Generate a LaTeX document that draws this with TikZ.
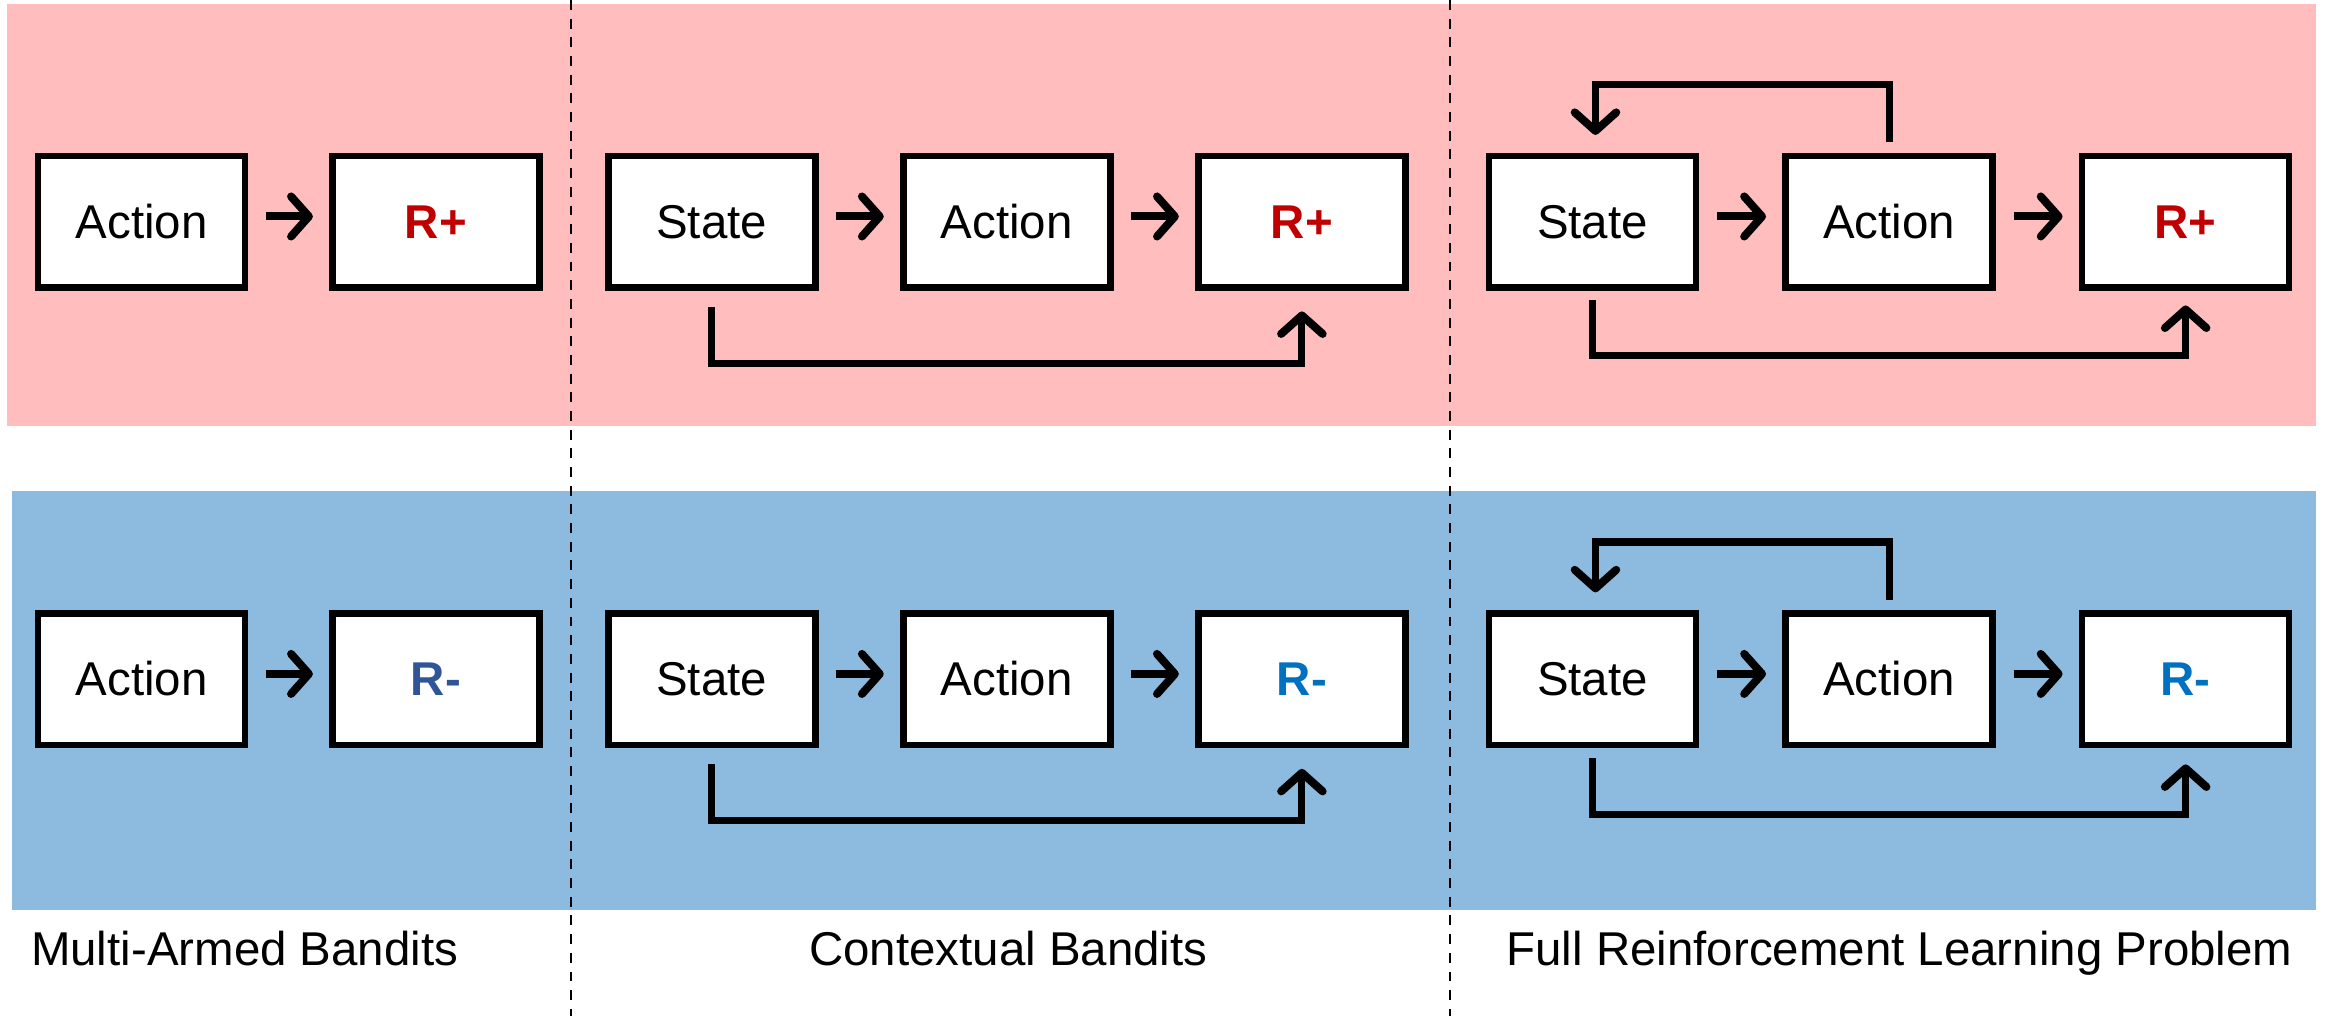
\documentclass[tikz,border=0pt]{standalone}
\usepackage{fontspec}
\setmainfont{Liberation Sans}
\usetikzlibrary{arrows.meta}
\definecolor{bandpink}{HTML}{FFBDBD}
\definecolor{bandblue}{HTML}{8DBBE0}
\definecolor{rplus}{HTML}{C00000}
\definecolor{rminusdark}{HTML}{2F5597}
\definecolor{rminus}{HTML}{0070C0}
\tikzset{
  box/.style={draw=black, fill=white, line width=4.4pt, minimum width=139.6pt, minimum height=88.6pt,
    inner sep=0pt, text height=22.7pt, text depth=0pt, font=\fontsize{32pt}{38pt}\selectfont},
  plus/.style={text=rplus, font=\fontsize{32pt}{38pt}\selectfont\bfseries},
  minusA/.style={text=rminusdark, font=\fontsize{32pt}{38pt}\selectfont\bfseries},
  minusB/.style={text=rminus, font=\fontsize{32pt}{38pt}\selectfont\bfseries},
  conn/.style={draw=black, line width=4.8pt, line cap=butt,
    -{Straight Barb[length=12.5pt,width=28pt,line width=5.4pt,round]}},
  link/.style={draw=black, line width=5.4pt, line cap=butt,
    -{Straight Barb[length=12pt,width=27pt,line width=5.4pt,round]}},
  divider/.style={draw=black, line width=1.1pt, dash pattern=on 6.7pt off 5.9pt},
  caption/.style={inner sep=0pt, text height=22.7pt, text depth=0pt, font=\fontsize{32pt}{38pt}\selectfont}
}
\begin{document}
\begin{tikzpicture}[x=1pt, y=-1pt]
\useasboundingbox (0,0) rectangle (1568,685);
% bands
\fill[bandpink] (5,3) rectangle (1562,287);
\fill[bandblue] (8,331) rectangle (1562,614);
% dividers
\coordinate (d1t) at (385,0); \coordinate (d1b) at (385,685);
\coordinate (d2t) at (978,0); \coordinate (d2b) at (978,685);
\draw[divider] (d1t) -- (d1b);
\draw[divider] (d2t) -- (d2b);

% ---------- Row 1 (pink) ----------
\node[box] (ma1) at (95.5,149.5) {Action};
\node[box,plus] (mr1) at (294,149.5) {R+};
\node[box] (cs1) at (480,149.5) {State};
\node[box] (ca1) at (679,149.5) {Action};
\node[box,plus] (cr1) at (878,149.5) {R+};
\node[box] (fs1) at (1074,149.5) {State};
\node[box] (fa1) at (1274,149.5) {Action};
\node[box,plus] (fr1) at (1474,149.5) {R+};

% ---------- Row 2 (blue) ----------
\node[box] (ma2) at (95.5,458) {Action};
\node[box,minusA] (mr2) at (294,458) {R-};
\node[box] (cs2) at (480,458) {State};
\node[box] (ca2) at (679,458) {Action};
\node[box,minusB] (cr2) at (878,458) {R-};
\node[box] (fs2) at (1074,458) {State};
\node[box] (fa2) at (1274,458) {Action};
\node[box,minusB] (fr2) at (1474,458) {R-};

% short arrows
\foreach \a/\b in {ma1/mr1, cs1/ca1, ca1/cr1, fs1/fa1, fa1/fr1,
                   ma2/mr2, cs2/ca2, ca2/cr2, fs2/fa2, fa2/fr2}{
  \draw[link] ([xshift=12pt,yshift=3.5pt]\a.east) -- ([xshift=-11pt,yshift=3.5pt]\b.west);
}

% bypass arrows (State -> R)
\draw[conn] ([yshift=-11pt]cs1.south) |- ([yshift=-49pt]cr1.south) -- ([yshift=-14pt]cr1.south);
\draw[conn] ([yshift=-6pt]fs1.south) |- ([yshift=-44pt]fr1.south) -- ([yshift=-10pt]fr1.south);
\draw[conn] ([yshift=-11pt]cs2.south) |- ([yshift=-49pt]cr2.south) -- ([yshift=-14pt]cr2.south);
\draw[conn] ([yshift=-7pt]fs2.south) |- ([yshift=-45pt]fr2.south) -- ([yshift=-11pt]fr2.south);

% feedback loops (Action -> State)
\draw[conn] ([yshift=7pt]fa1.north) |- ([xshift=2pt,yshift=46pt]fs1.north) -- ([xshift=2pt,yshift=12pt]fs1.north);
\draw[conn] ([yshift=7pt]fa2.north) |- ([xshift=2pt,yshift=46pt]fs2.north) -- ([xshift=2pt,yshift=12pt]fs2.north);

% captions
\node[caption] (cap1) at (165,640) {Multi-Armed Bandits};
\node[caption] (cap2) at (680,640) {Contextual Bandits};
\node[caption] (cap3) at (1281,640) {Full Reinforcement Learning Problem};
\end{tikzpicture}
\end{document}
